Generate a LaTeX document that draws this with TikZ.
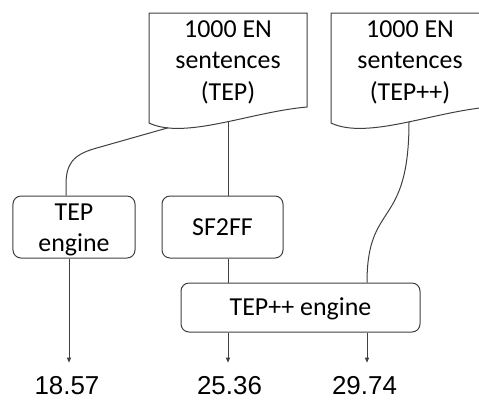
\documentclass[tikz,border=0pt]{standalone}
\usepackage{fontspec}
\setmainfont{Carlito}
\newfontfamily\numfont{Liberation Sans}
\usetikzlibrary{arrows.meta}
\tikzset{
  ln/.style={draw=black!75, line width=1bp},
  procbox/.style={ln, rectangle, rounded corners=8bp, inner sep=0pt, align=center,
    font=\fontsize{26}{31}\selectfont},
  doctext/.style={inner sep=0pt, align=center, anchor=north, font=\fontsize{26}{32}\selectfont},
  numtext/.style={inner sep=0pt, anchor=base, font=\numfont\fontsize{26}{30}\selectfont},
  arr/.style={ln, -{Triangle[length=5bp,width=4bp]}, shorten >=13bp},
}
\begin{document}
\begin{tikzpicture}[x=1bp,y=-1bp]
\fill[white] (0,0) rectangle (479,399);
\useasboundingbox (0,0) rectangle (479,399);
\begin{scope}
\clip (0,0) rectangle (479,399);
% documents
\draw[ln] (149,123) -- (149,13) -- (307,13) -- (307,107)
  .. controls (250,112) and (185,140) .. (149,123) -- cycle;
\draw[ln] (331,123) -- (331,13) -- (489,13) -- (489,107)
  .. controls (432,112) and (367,140) .. (331,123) -- cycle;
\end{scope}
\node[doctext] (doc1) at (228,20) {1000 EN\\sentences\\(TEP)};
\node[doctext] (doc2) at (410,20) {1000 EN\\sentences\\(TEP++)};
\coordinate (d1a) at (168,127.8);
\coordinate (d1b) at (228,121.5);
\coordinate (d2a) at (409,121.5);
% process boxes
\node[procbox, minimum width=122bp, minimum height=62bp] (tep) at (74,227) {\rule{0pt}{22bp}TEP\\engine};
\node[procbox, minimum width=121bp, minimum height=62bp] (sf) at (222.5,227) {SF2FF};
\node[procbox, minimum width=239bp, minimum height=49bp] (tpp) at (300.5,307.5) {\rule{0pt}{20bp}TEP++ engine};
% results
\node[numtext] (r1) at (67,394) {18.57};
\node[numtext] (r2) at (229.5,394) {25.36};
\node[numtext] (r3) at (364.5,394) {29.74};
% connectors
\draw[ln] (d1a) -- (95,148.5) .. controls (72,155) and (66,165) .. (66,185) -- (tep.north -| 66,0);
\draw[ln] (d1b) -- (sf.north -| d1b);
\draw[ln] (sf.south -| d1b) -- (tpp.north -| d1b);
\draw[ln] (d2a) .. controls (409,230) and (367,200) .. (tpp.north -| 367,0);
\draw[arr] (tep.south -| 69,0) -- (r1.north -| 69,0);
\draw[arr] (tpp.south -| 228,0) -- (r2.north -| 228,0);
\draw[arr] (tpp.south -| 367,0) -- (r3.north -| 367,0);
\end{tikzpicture}
\end{document}
